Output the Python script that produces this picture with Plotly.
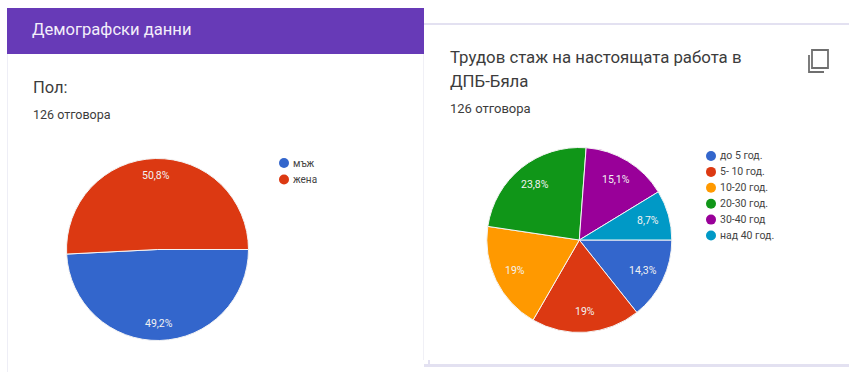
import numpy as np
import plotly.graph_objects as go

W, H = 849, 375

# Gender split
gender_labels = ["мъж", "жена"]
gender_values = [49.2, 50.8]
gender_text = ["49,2%", "50,8%"]
gender_colors = ["#3366CC", "#DC3912"]

# Years of service
tenure_labels = ["до 5 год.", "5- 10 год.", "10-20 год.", "20-30 год.", "30-40 год", "над 40 год."]
tenure_values = [14.3, 19, 19, 23.8, 15.1, 8.7]
tenure_text = ["14,3%", "19%", "19%", "23,8%", "15,1%", "8,7%"]
tenure_colors = ["#3366CC", "#DC3912", "#FF9900", "#109618", "#990099", "#0099C6"]

FONT = "Roboto"
INK = "#3c3c3c"


def px(x):
    return x / W


def py(y):
    return 1 - y / H


def pie(labels, values, colors, cx, cy, r):
    return go.Pie(
        labels=labels, values=values, sort=False, direction="clockwise", rotation=90,
        marker=dict(colors=colors, line=dict(color="#f4f4f4", width=1)),
        textinfo="none", hoverinfo="label+percent", showlegend=False,
        domain=dict(x=[px(cx - r), px(cx + r)], y=[py(cy + r), py(cy - r)]),
    )


def text(x, y, s, size, color=INK, anchor="left"):
    # Left-aligned annotations carry inner padding, so pull them back onto x
    return dict(x=px(x), y=py(y), xref="paper", yref="paper", text=s, showarrow=False,
                xanchor=anchor, yanchor="middle", align=anchor,
                xshift=-2.5 if anchor == "left" else 0,
                font=dict(family=FONT, size=size, color=color))


def slice_labels(values, strings, cx, cy, r, frac):
    # Place each percentage along its slice's mid-angle
    shares = np.array(values, dtype=float) / np.sum(values)
    mids = (np.cumsum(shares) - shares / 2) * 2 * np.pi
    return [
        text(cx + frac * r * np.cos(a), cy + frac * r * np.sin(a), s, 10.5, "#f2f2f2", "center")
        for a, s in zip(mids, strings)
    ]


def legend(labels, colors, x_dot, x_text, y0, step, size):
    shapes, notes = [], []
    for i, (lab, col) in enumerate(zip(labels, colors)):
        y = y0 + i * step
        shapes.append(dict(type="circle", xref="paper", yref="paper", fillcolor=col, line_width=0,
                           x0=px(x_dot - 5), x1=px(x_dot + 5), y0=py(y + 5), y1=py(y - 5)))
        notes.append(text(x_text, y, lab, size, "#444444"))
    return shapes, notes


def rect(x0, y0, x1, y1, fill, line=None, width=0):
    return dict(type="rect", xref="paper", yref="paper", layer="below",
                x0=px(x0), x1=px(x1), y0=py(y1), y1=py(y0),
                fillcolor=fill, line=dict(color=line or fill, width=width))


LAVENDER = "#e3e1f1"
shapes = [
    # left card with its purple header
    rect(7, 54, 8, 372, "#eeeef6"),
    rect(423, 54, 424, 360, "#f0f0f6"),
    rect(7, 8, 424, 54, "#673AB7"),
    # right card outline
    rect(424, 23, 849, 25, LAVENDER),
    rect(424, 364, 849, 367, LAVENDER),
    rect(424, 360, 430, 366, LAVENDER),
    rect(424, 25, 428, 364, "#ffffff"),
]

# Copy icon
icon = [
    rect(812, 50, 828, 68, "rgba(0,0,0,0)", "#6f6f6f", 1.8),
    dict(type="path", xref="paper", yref="paper", line=dict(color="#6f6f6f", width=1.8),
         path=f"M {px(809)} {py(55)} L {px(809)} {py(72)} L {px(824)} {py(72)}"),
]
for s in icon:
    s["layer"] = "above"
shapes += icon

annotations = [
    text(32, 29, "Демографски данни", 16.6, "#f3eefa"),
    text(33, 87, "Пол:", 16.5),
    text(33, 115, "126 отговора", 12.5),
    text(450, 57, "Трудов стаж на настоящата работа в", 16.8),
    text(450, 81, "ДПБ-Бяла", 16.8),
    text(450, 108, "126 отговора", 13),
]

g_cx, g_cy, g_r = 157.5, 249.5, 91
t_cx, t_cy, t_r = 579.3, 240, 92.5

annotations += slice_labels(gender_values, gender_text, g_cx, g_cy, g_r, 0.81)
annotations += slice_labels(tenure_values, tenure_text, t_cx, t_cy, t_r, 0.77)

s1, n1 = legend(gender_labels, gender_colors, 284, 293, 163, 16.5, 10)
s2, n2 = legend(tenure_labels, tenure_colors, 711, 720.5, 156, 15.9, 10.5)
shapes += s1 + s2
annotations += n1 + n2

fig = go.Figure([
    pie(gender_labels, gender_values, gender_colors, g_cx, g_cy, g_r),
    pie(tenure_labels, tenure_values, tenure_colors, t_cx, t_cy, t_r),
])
fig.update_layout(
    width=W, height=H, margin=dict(l=0, r=0, t=0, b=0),
    paper_bgcolor="#ffffff", plot_bgcolor="#ffffff",
    shapes=shapes, annotations=annotations,
)
fig.write_html("out.html", config=dict(displayModeBar=False))
